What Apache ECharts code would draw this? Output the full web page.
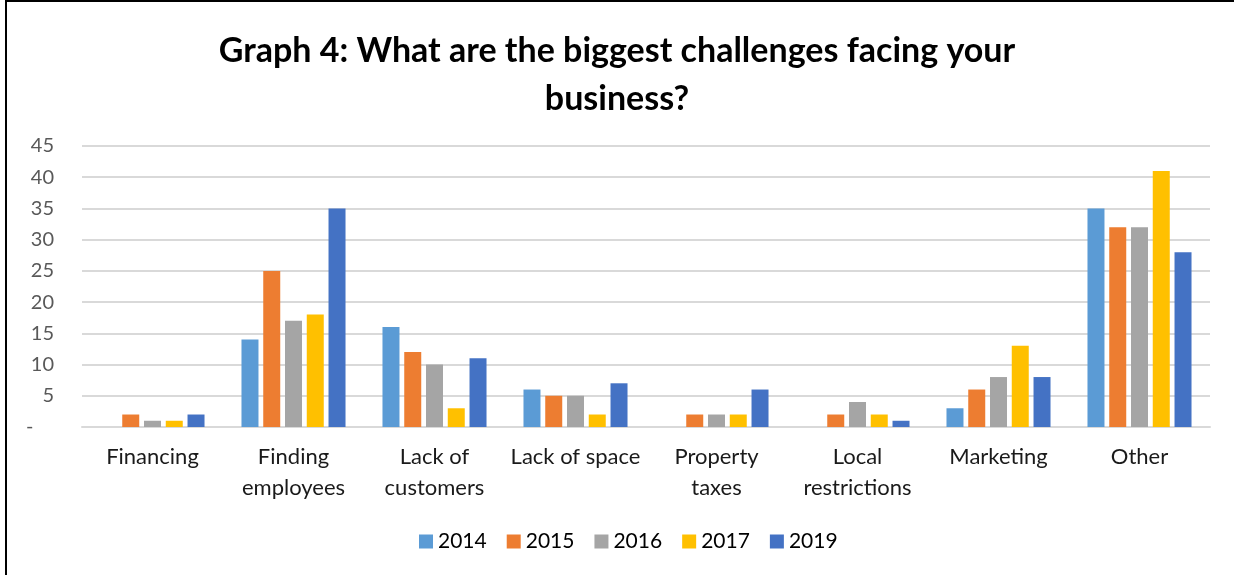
<!DOCTYPE html>
<html>
<head>
<meta charset="utf-8">
<script src="https://cdn.jsdelivr.net/npm/echarts@6/dist/echarts.min.js"></script>
<style>html,body{margin:0;padding:0;background:#fff}#c{width:1234px;height:575px}</style>
</head>
<body>
<div id="c"></div>
<script>
const categories = ['Financing', 'Finding\nemployees', 'Lack of\ncustomers', 'Lack of space', 'Property\ntaxes', 'Local\nrestrictions', 'Marketing', 'Other'];
const s2014 = [0, 14, 16, 6, 0, 0, 3, 35];
const s2015 = [2, 25, 12, 5, 2, 2, 6, 32];
const s2016 = [1, 17, 10, 5, 2, 4, 8, 32];
const s2017 = [1, 18, 3, 2, 2, 2, 13, 41];
const s2019 = [2, 35, 11, 7, 6, 1, 8, 28];
const seriesNames = ['2014', '2015', '2016', '2017', '2019'];
const colors = ['#5B9BD5', '#ED7D31', '#A5A5A5', '#FFC000', '#4472C4'];
const allData = [s2014, s2015, s2016, s2017, s2019];

const FONT = 'Lato, "Liberation Sans", sans-serif';
const chart = echarts.init(document.getElementById('c'));
chart.setOption({
  animation: false,
  color: colors,
  graphic: [{
    type: 'rect', shape: {x: 6, y: 1, width: 1300, height: 700},
    style: {fill: 'none', stroke: '#000', lineWidth: 2}, silent: true
  }],
  title: {
    text: 'Graph 4: What are the biggest challenges facing your\nbusiness?',
    left: 'center', top: 22,
    textStyle: {fontFamily: FONT, fontSize: 34, fontWeight: 'bold', color: '#000', lineHeight: 48}
  },
  legend: {
    data: seriesNames, bottom: 18, left: 414,
    itemWidth: 14, itemHeight: 14, itemGap: 20, icon: 'rect',
    textStyle: {fontFamily: FONT, fontSize: 21, color: '#000'}
  },
  grid: {left: 82, right: 24, top: 146, bottom: 148, containLabel: false},
  xAxis: {
    type: 'category', data: categories,
    axisLine: {lineStyle: {color: '#D9D9D9', width: 2}},
    axisTick: {show: false},
    axisLabel: {interval: 0, fontFamily: FONT, fontSize: 22, color: '#1a1a1a', lineHeight: 31, margin: 14}
  },
  yAxis: {
    type: 'value', min: 0, max: 45, interval: 5,
    axisLine: {show: false}, axisTick: {show: false},
    splitLine: {lineStyle: {color: '#D9D9D9', width: 2}},
    axisLabel: {fontFamily: FONT, fontSize: 20, color: '#595959', margin: 28,
      formatter: v => v === 0 ? '-    ' : String(v)}
  },
  series: seriesNames.map((n, i) => ({
    name: n, type: 'bar', data: allData[i],
    barWidth: 17, barGap: '28%'
  }))
});
</script>
</body>
</html>
